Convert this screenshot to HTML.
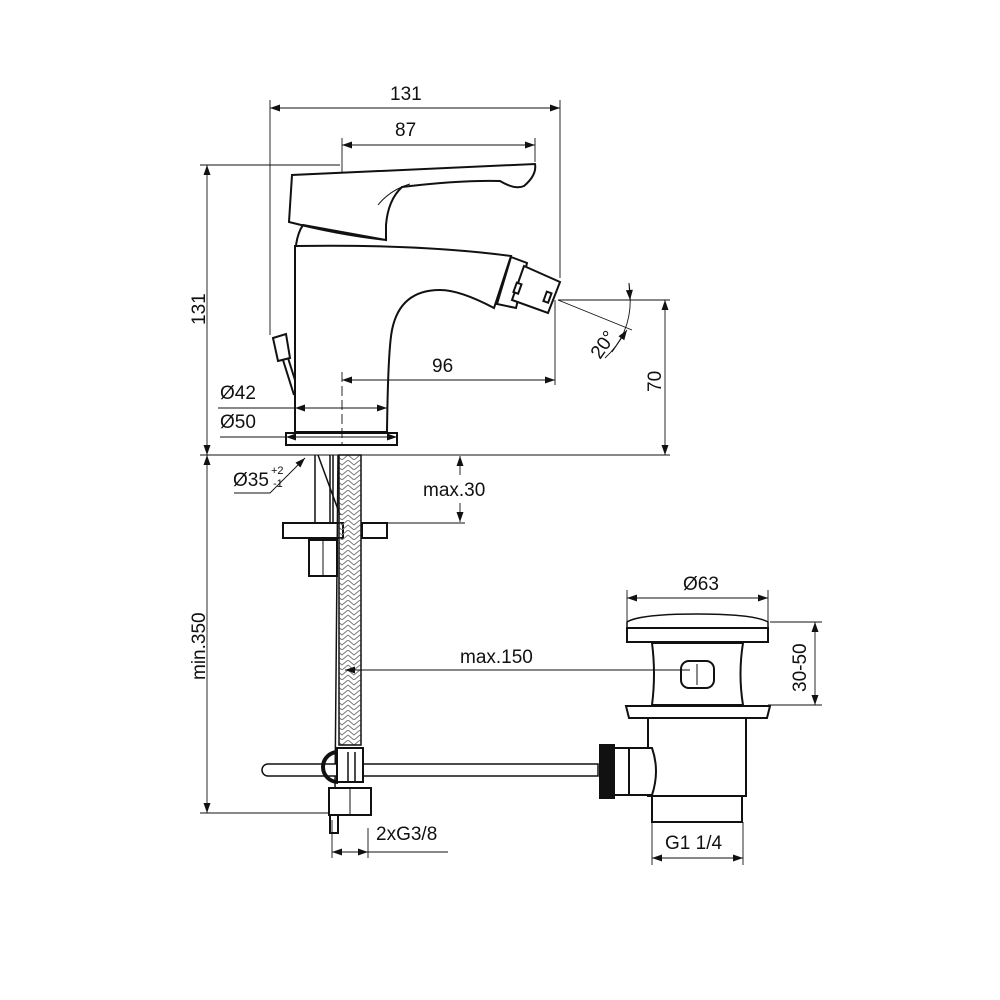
<!DOCTYPE html>
<html><head><meta charset="utf-8"><style>
html,body{margin:0;padding:0;background:#fff}
svg{display:block}
text{font-family:"Liberation Sans",sans-serif;font-size:19px;fill:#111}
</style></head><body>
<svg width="1000" height="1000" viewBox="0 0 1000 1000" xmlns="http://www.w3.org/2000/svg">
<defs>
<marker id="a" viewBox="0 0 10 10" refX="10" refY="5" markerWidth="14" markerHeight="10" markerUnits="userSpaceOnUse" orient="auto-start-reverse"><path d="M0,1.5 L10,5 L0,8.5z" fill="#111"/></marker>
<pattern id="braid" width="12" height="10" patternUnits="userSpaceOnUse"><path d="M0,0 L6,5 L12,0 M0,5 L6,10 L12,5" stroke="#777" stroke-width="1" fill="none"/></pattern>
</defs>

<g stroke="#111" fill="#fff" stroke-width="2">
<path d="M295,246 Q420,244 511,256 L494,308 Q460,290 440,290 Q400,290 392,330 Q388,350 387,432 L295,432 Z"/>
<path d="M296,245 Q298,232 303,225 L386,240 L386,225 Q388,200 402,187 Q460,180 500,181 Q515,190 524,186 Q537,175 535,164 L292,175 L289,222 Q340,235 387,240"/>
<path d="M378,205 Q390,190 410,184" fill="none" stroke-width="1"/>
<path d="M511,257 L527,263 L516,308 L497,304 Z"/>
<path d="M524,266 L560,282 L548,313 L512,300 Z"/>
<rect x="515" y="283" width="5" height="10" transform="rotate(20 517 288)"/>
<rect x="545" y="292" width="5" height="10" transform="rotate(20 547 297)"/>
<path d="M273,338 L286,334 L290,358 L278,361 Z"/>
<path d="M283,360 L294,395 M288,358 L295,380" fill="none"/>
<rect x="286" y="433" width="111" height="12"/>
<path d="M315,455 L315,523 M330,455 L330,523 M333,455 L333,523" fill="none" stroke-width="1.5"/>
<path d="M318,455 L340,515" fill="none" stroke-width="1.5"/>
<rect x="283" y="523" width="60" height="15"/>
<rect x="362" y="523" width="25" height="15"/>
<rect x="309" y="540" width="28" height="36"/>
<line x1="323" y1="540" x2="323" y2="576" stroke-width="1"/>
<rect x="339" y="455" width="22" height="290" fill="url(#braid)" stroke-width="1.5"/>
<line x1="338" y1="455" x2="335" y2="790" stroke-width="1.5"/>
<path d="M268,764 L598,764 L598,776 L268,776 A6,6 0 0 1 268,764 Z" stroke-width="1.5"/>
<rect x="337" y="748" width="26" height="34"/>
<path d="M338,752 A12,12 0 0 0 338,782" fill="none" stroke-width="4"/>
<line x1="348" y1="752" x2="348" y2="782" stroke-width="1.5"/><line x1="355" y1="752" x2="355" y2="782" stroke-width="1.5"/>
<rect x="329" y="788" width="42" height="27"/>
<line x1="350" y1="788" x2="350" y2="815" stroke-width="1"/>
<rect x="330" y="815" width="8" height="18"/>
<path d="M627,622 Q640,614 697,614 Q754,614 768,622 L768,628 L627,628 Z" stroke-width="1.5"/>
<rect x="627" y="628" width="141" height="14"/>
<path d="M652,643 L743,643 Q738,674 743,705 L652,705 Q656,674 652,643 Z"/>
<rect x="681" y="661" width="33" height="27" rx="8"/>
<line x1="697" y1="664" x2="697" y2="685" stroke-width="1"/>
<path d="M626,706 L770,706 L767,718 L629,718 Z"/>
<rect x="648" y="718" width="98" height="78"/>
<rect x="652" y="796" width="90" height="26"/>
<path d="M628,748 L652,748 Q660,771 652,795 L628,795 Z"/>
<rect x="612" y="748" width="17" height="47"/>
<rect x="600" y="745" width="14" height="53" fill="#111"/>
</g>

<g stroke="#111" fill="none" stroke-width="0.9">
<line x1="270" y1="100" x2="270" y2="335"/>
<line x1="560" y1="100" x2="560" y2="278"/>
<line x1="270" y1="108" x2="560" y2="108" marker-start="url(#a)" marker-end="url(#a)"/>
<line x1="342" y1="138" x2="342" y2="172"/>
<line x1="535" y1="138" x2="535" y2="162"/>
<line x1="342" y1="145" x2="535" y2="145" marker-start="url(#a)" marker-end="url(#a)"/>
<line x1="200" y1="165" x2="340" y2="165"/>
<line x1="200" y1="455" x2="670" y2="455"/>
<line x1="207" y1="165" x2="207" y2="455" marker-start="url(#a)" marker-end="url(#a)"/>
<line x1="207" y1="455" x2="207" y2="813" marker-start="url(#a)" marker-end="url(#a)"/>
<line x1="200" y1="813" x2="330" y2="813"/>
<line x1="555" y1="300" x2="555" y2="385"/>
<line x1="342" y1="380" x2="555" y2="380" marker-start="url(#a)" marker-end="url(#a)"/>
<line x1="342" y1="372" x2="342" y2="445" stroke-dasharray="10,4"/>
<line x1="218" y1="408" x2="387" y2="408"/>
<line x1="295" y1="408" x2="387" y2="408" marker-start="url(#a)" marker-end="url(#a)"/>
<line x1="220" y1="437" x2="397" y2="437"/>
<line x1="286" y1="437" x2="397" y2="437" marker-start="url(#a)" marker-end="url(#a)"/>
<line x1="558" y1="300" x2="670" y2="300"/>
<line x1="558" y1="300" x2="632" y2="330"/>
<path d="M629,283 Q636,330 605,358"/>
<line x1="629" y1="283" x2="630" y2="300" marker-end="url(#a)"/>
<path d="M612,352 L627,330" marker-end="url(#a)"/>
<line x1="665" y1="300" x2="665" y2="455" marker-start="url(#a)" marker-end="url(#a)"/>
<line x1="460" y1="475" x2="460" y2="456" marker-end="url(#a)"/>
<line x1="460" y1="503" x2="460" y2="522" marker-end="url(#a)"/>
<line x1="388" y1="523" x2="465" y2="523"/>
<path d="M234,493 L270,493 L305,458" marker-end="url(#a)"/>
<line x1="690" y1="670" x2="345" y2="670" marker-end="url(#a)"/>
<line x1="332" y1="820" x2="332" y2="858"/>
<line x1="368" y1="828" x2="368" y2="858"/>
<line x1="332" y1="852" x2="368" y2="852" marker-start="url(#a)" marker-end="url(#a)"/>
<line x1="368" y1="852" x2="448" y2="852"/>
<line x1="627" y1="590" x2="627" y2="625"/>
<line x1="768" y1="590" x2="768" y2="625"/>
<line x1="627" y1="598" x2="768" y2="598" marker-start="url(#a)" marker-end="url(#a)"/>
<line x1="770" y1="622" x2="822" y2="622"/>
<line x1="768" y1="705" x2="822" y2="705"/>
<line x1="815" y1="622" x2="815" y2="705" marker-start="url(#a)" marker-end="url(#a)"/>
<line x1="652" y1="822" x2="652" y2="865"/>
<line x1="743" y1="822" x2="743" y2="865"/>
<line x1="652" y1="858" x2="743" y2="858" marker-start="url(#a)" marker-end="url(#a)"/>
</g>

<text x="390" y="100">131</text>
<text x="395" y="136">87</text>
<text x="432" y="372">96</text>
<text x="220" y="399">Ø42</text>
<text x="220" y="428">Ø50</text>
<text x="233" y="486">Ø35</text>
<text x="271" y="474" style="font-size:11px">+2</text>
<text x="273" y="487" style="font-size:11px">-1</text>
<text x="423" y="496">max.30</text>
<text x="460" y="663">max.150</text>
<text x="376" y="840">2xG3/8</text>
<text x="683" y="590">Ø63</text>
<text x="665" y="849">G1 1/4</text>
<text transform="translate(205,325) rotate(-90)">131</text>
<text transform="translate(205,680) rotate(-90)">min.350</text>
<text transform="translate(661,392) rotate(-90)">70</text>
<text transform="translate(806,692) rotate(-90)">30-50</text>
<text transform="translate(600,360) rotate(-55)">20°</text>
</svg>
</body></html>
